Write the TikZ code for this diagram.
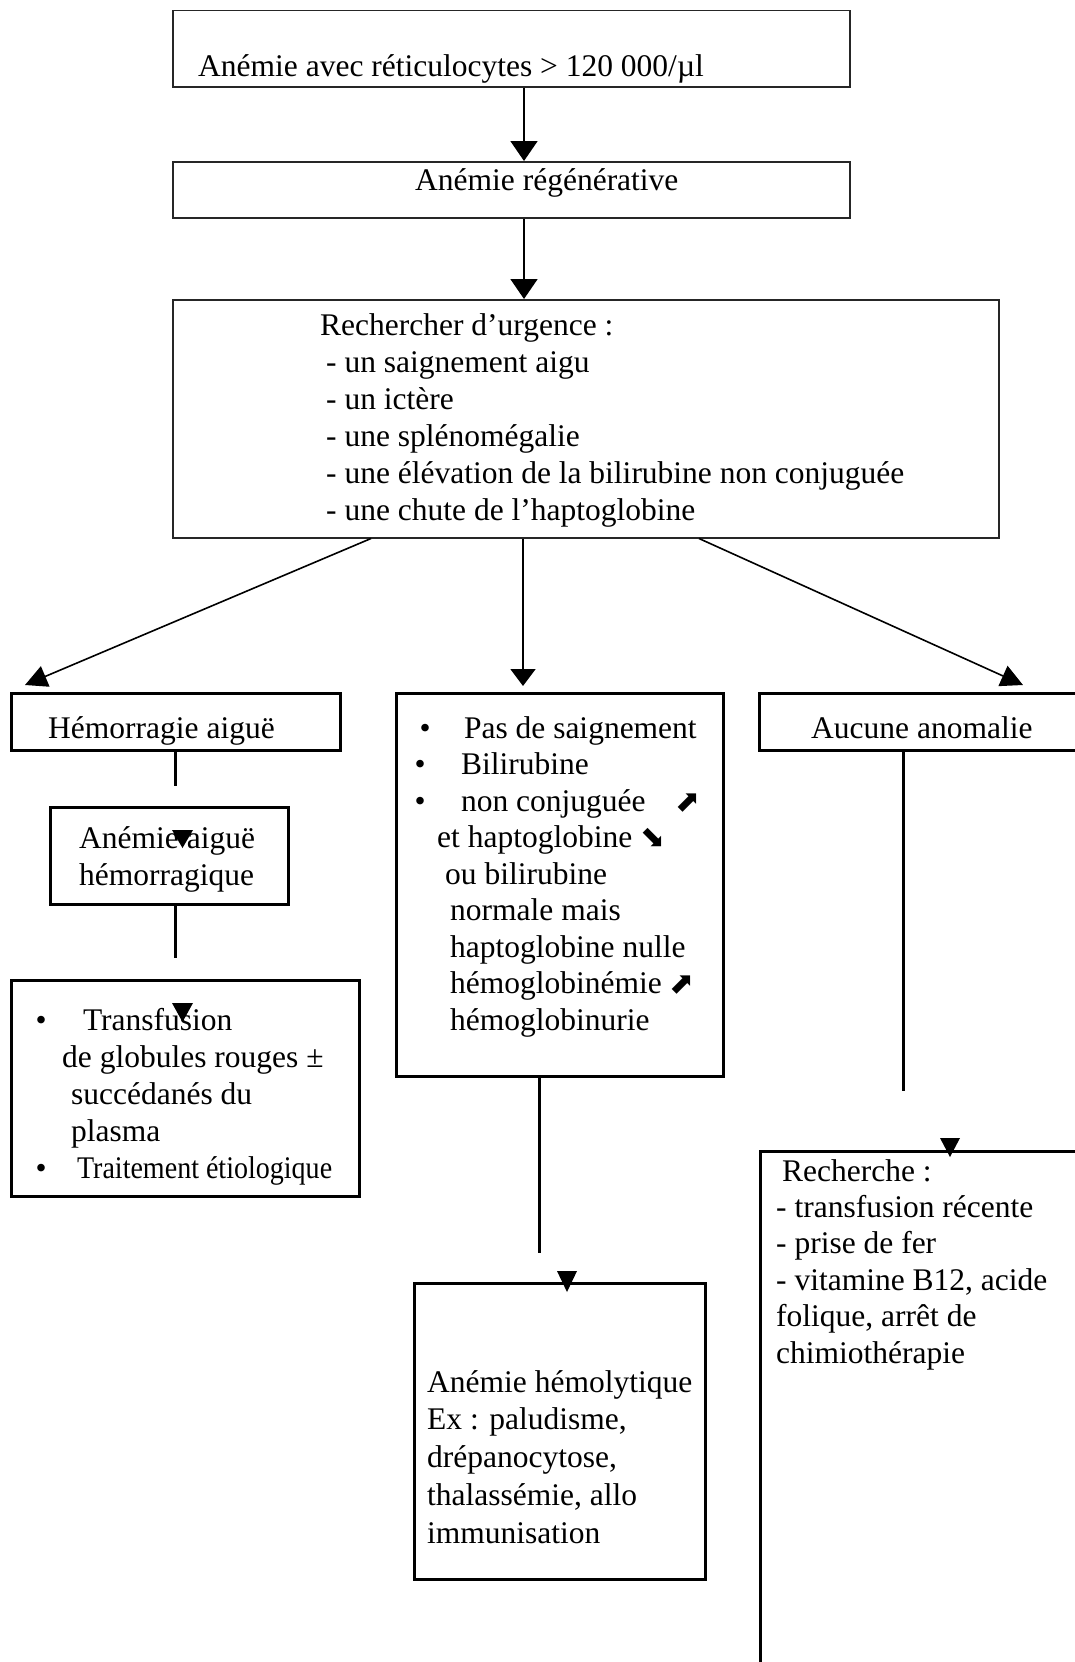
\documentclass[tikz,border=0pt]{standalone}
\usepackage{fontspec}
\setmainfont{Liberation Serif}
\newfontfamily\condfont[FakeStretch=0.89]{Liberation Serif}
\newfontfamily\symfont{DejaVu Sans}
\usetikzlibrary{arrows.meta}
\newcommand\arrsym{\symfont\fontsize{30}{30}\selectfont}
\begin{document}
\begin{tikzpicture}[x=1pt,y=-1pt,
  thinbox/.style={draw=black!85, line width=1.5pt, inner sep=0pt, anchor=north west},
  thickbox/.style={draw=black, line width=3pt, inner sep=0pt, anchor=north west},
  txt/.style={inner sep=0pt, anchor=base west, align=left, font={\fontsize{31.5}{37}\selectfont}},
  arrv/.style={line width=1.8pt, -{Triangle[length=20pt,width=27pt]}},
  arrm/.style={line width=1.6pt, -{Triangle[length=17pt,width=25pt]}},
  diag/.style={line width=1.6pt, -{Triangle[length=22pt,width=22pt]}},
  plainln/.style={line width=3pt},
  floattri/.style={fill=black}]
\useasboundingbox (0,0) rectangle (1075,1662);
\clip (0,0) rectangle (1075,1662);
% boxes
\node[thinbox, minimum width=677pt, minimum height=76pt] (b1) at (172,10) {};
\node[thinbox, minimum width=677pt, minimum height=56pt] (b2) at (172,161) {};
\node[thinbox, minimum width=826pt, minimum height=238pt] (b3) at (172,299) {};
\node[thickbox, minimum width=329pt, minimum height=57pt] (b4) at (10,692) {};
\node[thickbox, minimum width=327pt, minimum height=383pt] (b5) at (395,692) {};
\node[thickbox, minimum width=340pt, minimum height=57pt] (b6) at (758,692) {};
\node[thickbox, minimum width=238pt, minimum height=97pt] (b7) at (49,806) {};
\node[thickbox, minimum width=348pt, minimum height=216pt] (b8) at (10,979) {};
\node[thickbox, minimum width=291pt, minimum height=296pt] (b9) at (413,1282) {};
\node[thickbox, minimum width=340pt, minimum height=540pt] (b10) at (759,1150) {};
% texts (multi-line nodes are anchored at the baseline of their last line)
\node[txt] (t1) at (198,77) {Anémie avec réticulocytes > 120 000/µl};
\node[txt] (t2) at (415,190) {Anémie régénérative};
\node[txt] (t3) at (320,520) {Rechercher d’urgence :\\
\hspace*{6pt}- un saignement aigu\\
\hspace*{6pt}- un ictère\\
\hspace*{6pt}- une splénomégalie\\
\hspace*{6pt}- une élévation de la bilirubine non conjuguée\\
\hspace*{6pt}- une chute de l’haptoglobine};
\node[txt] (t4) at (48,738) {Hémorragie aiguë};
\node[txt, font={\fontsize{31.5}{36.5}\selectfont}] (t5) at (414,1030) {\hspace*{5.4pt}•\hspace*{33.4pt}Pas de saignement\\
\hspace*{0.4pt}•\hspace*{35.4pt}Bilirubine\\
\hspace*{0.4pt}•\hspace*{35.4pt}non conjuguée\hspace*{30pt}{\arrsym ⬈}\\
\hspace*{23pt}et haptoglobine {\arrsym ⬊}\\
\hspace*{31pt}ou bilirubine\\
\hspace*{36pt}normale mais\\
\hspace*{36pt}haptoglobine nulle\\
\hspace*{36pt}hémoglobinémie {\arrsym ⬈}\\
\hspace*{36pt}hémoglobinurie};
\node[txt] (t6) at (811,738) {Aucune anomalie};
\node[txt] (t7) at (79,885) {Anémie aiguë\\hémorragique};
\node[txt] (t8) at (30,1178) {\hspace*{5.4pt}•\hspace*{36.4pt}Transfusion\\
\hspace*{32pt}de globules rouges ±\\
\hspace*{41pt}succédanés du\\
\hspace*{41pt}plasma\\
\hspace*{5.4pt}•\hspace*{30.4pt}{\condfont Traitement étiologique}};
\node[txt, font={\fontsize{31.5}{37.75}\selectfont}] (t9) at (427,1543) {Anémie hémolytique\\
Ex : paludisme,\\
drépanocytose,\\
thalassémie, allo\\
immunisation};
\node[txt, font={\fontsize{31.5}{36.4}\selectfont}] (t10) at (776,1363) {\hspace*{6pt}Recherche :\\
- transfusion récente\\
- prise de fer\\
- vitamine B12, acide\\
folique, arrêt de\\
chimiothérapie};
% connector positions
\coordinate (ax) at (524,0);
\coordinate (dl) at (371,0);
\coordinate (tl) at (25,685);
\coordinate (mx) at (523,0);
\coordinate (tm) at (523,686);
\coordinate (dr) at (699,0);
\coordinate (tr) at (1023,685);
\coordinate (lx) at (175,0);
\coordinate (e1) at (175,786);
\coordinate (e2) at (175,958);
\coordinate (px) at (539,0);
\coordinate (e3) at (539,1253);
\coordinate (qx) at (903,0);
\coordinate (e4) at (903,1091);
% connectors
\draw[arrv] (b1.south -| ax) -- (b2.north -| ax);
\draw[arrv] (b2.south -| ax) -- (b3.north -| ax);
\draw[diag] (b3.south -| dl) -- (tl);
\draw[arrm] (b3.south -| mx) -- (tm);
\draw[diag] (b3.south -| dr) -- (tr);
\draw[plainln] (b4.south -| lx) -- (e1);
\draw[plainln] (b7.south -| lx) -- (e2);
\draw[plainln] (b5.south -| px) -- (e3);
\draw[plainln] (b6.south -| qx) -- (e4);
% detached arrowheads
\fill[floattri] (172,830) -- (193,830) -- (182.5,848) -- cycle;
\fill[floattri] (172,1003) -- (193,1003) -- (182.5,1022) -- cycle;
\fill[floattri] (557,1271) -- (577,1271) -- (567,1292) -- cycle;
\fill[floattri] (940,1138) -- (960,1138) -- (950,1157) -- cycle;
\end{tikzpicture}
\end{document}
